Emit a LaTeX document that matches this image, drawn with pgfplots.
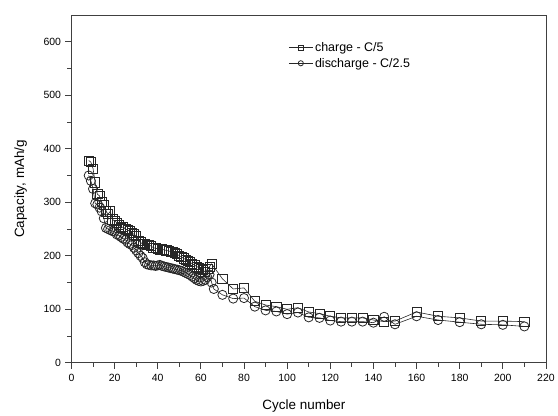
\documentclass[border=0pt]{standalone}
\usepackage{pgfplots}
\pgfplotsset{compat=1.18}
\usepackage{fontspec}
\setmainfont{Liberation Sans}

\begin{document}
\begin{tikzpicture}
\begin{axis}[
  scale only axis,
  width=476pt, height=349pt,
  xmin=0, xmax=220, ymin=0, ymax=650,
  xtick={0,20,...,220}, ytick={0,100,...,600},
  minor x tick num=1, minor y tick num=1,
  xtick pos=bottom, ytick pos=left,
  tick align=outside,
  major tick length=6pt, minor tick length=4pt,
  axis line style={black!75, line width=0.8pt},
  tick style={black!75, line width=0.8pt},
  tick label style={font=\fontsize{10.5}{12}\selectfont},
  /pgf/number format/assume math mode=true,
  xticklabel style={yshift=-2pt},
  yticklabel style={xshift=-1pt},
  xlabel={Cycle number},
  ylabel={Capacity, mAh/g},
  label style={font=\fontsize{13.5}{15}\selectfont},
  xlabel style={at={(axis description cs:0.49,0)}, anchor=center, yshift=-43pt},
  ylabel style={at={(axis description cs:0,0.5)}, anchor=center, yshift=51pt},
  legend style={at={(axis description cs:0.455,0.93)}, anchor=north west,
    draw=none, fill=none, font=\fontsize{12.5}{14}\selectfont,
    row sep=1pt, inner sep=1pt},
  legend cell align=left,
  legend image code/.code={
    \draw[mark repeat=2, mark phase=2, #1]
      plot coordinates {(0pt,0pt) (12pt,0pt) (24pt,0pt)};},
  legend image post style={mark size=2.6pt},
  clip=false,
]
\addplot[black!85, line width=0.6pt, mark=square, mark size=4.6pt,
  mark options={line width=0.8pt, fill=white, draw=black!85}] coordinates {
  (8,378) (9,375) (10,363) (11,337) (12,315) (13,312) (14,300) (15,295)
  (16,283) (17,278) (18,283) (19,268) (20,265) (21,262) (22,258) (23,252)
  (24,254) (25,250) (26,248) (27,246) (28,243) (29,240) (30,237) (31,228)
  (32,225) (33,222) (34,222) (35,220) (36,220) (37,218) (38,215) (39,214)
  (40,213) (41,212) (42,212) (43,211) (44,210) (45,209) (46,208) (47,207)
  (48,206) (49,203) (50,200) (51,198) (52,195) (53,193) (54,190) (55,188)
  (56,185) (57,183) (58,180) (59,178) (60,175) (61,173) (62,170) (63,175)
  (64,180) (65,185) (70,157) (75,138) (80,140) (85,115) (90,108) (95,105)
  (100,100) (105,103) (110,95) (115,92) (120,87) (125,84) (130,84) (135,84)
  (140,80) (145,77) (150,78) (160,95) (170,87) (180,84) (190,78) (200,78)
  (210,77)
};
\addlegendentry{charge - C/5}
\addplot[black!85, line width=0.6pt, mark=o, mark size=4.6pt,
  mark options={line width=0.8pt, fill=white, draw=black!85}] coordinates {
  (8,350) (9,340) (10,325) (11,298) (12,296) (13,290) (14,283) (15,270)
  (16,252) (17,250) (18,248) (19,246) (20,245) (21,240) (22,238) (23,235)
  (24,232) (25,230) (26,225) (27,222) (28,220) (29,215) (30,210) (31,205)
  (32,200) (33,196) (34,188) (35,184) (36,183) (37,182) (38,182) (39,181)
  (40,182) (41,183) (42,181) (43,180) (44,179) (45,178) (46,177) (47,176)
  (48,175) (49,174) (50,173) (51,172) (52,170) (53,168) (54,166) (55,164)
  (56,161) (57,158) (58,155) (59,153) (60,152) (61,153) (62,155) (63,160)
  (64,165) (65,150) (66,138) (70,127) (75,120) (80,121) (85,105) (90,98)
  (95,96) (100,91) (105,94) (110,85) (115,84) (120,79) (125,77) (130,77)
  (135,77) (140,75) (145,86) (150,72) (160,87) (170,80) (180,76) (190,72)
  (200,71) (210,68)
};
\addlegendentry{discharge - C/2.5}
\end{axis}
\path ([shift={(-71.7pt,-51.7pt)}]current axis.south west)
  rectangle ([shift={(10.5pt,15pt)}]current axis.north east);
\end{tikzpicture}
\end{document}
